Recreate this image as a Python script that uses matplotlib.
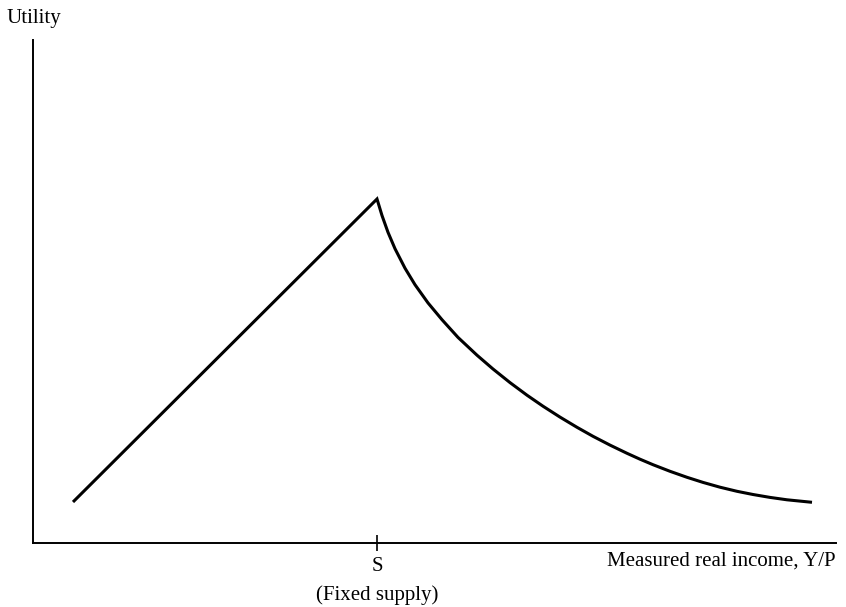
import numpy as np
import matplotlib
matplotlib.use('Agg')
import matplotlib.pyplot as plt

plt.rcParams['font.family'] = ['Liberation Serif', 'DejaVu Serif']

# ============================================================================
# DATA (arbitrary units)
# ============================================================================

rising_income = [40, 344]
rising_utility = [41, 344]

falling_income = [344, 349, 355, 362, 372, 382, 395, 409, 425, 444, 460,
                  477, 494, 510, 527, 544, 560, 577, 594, 607, 620, 637,
                  654, 670, 687, 704, 720, 737, 754, 779]
falling_utility = [344, 327.5, 310.7, 294.3, 274.8, 258.3, 240.1, 223.3,
                   205.6, 187.8, 174.0, 160.4, 147.8, 136.8, 125.9, 115.7,
                   106.7, 97.9, 89.7, 83.8, 78.3, 71.7, 65.7, 60.6, 55.8,
                   51.7, 48.5, 45.6, 43.2, 40.7]

supply_point = 344
tick_labels = ['S']

# ============================================================================
# PLOT
# ============================================================================

W, H = 846, 607
fig = plt.figure(figsize=(W / 100, H / 100), dpi=100)
ax = fig.add_axes([33 / W, (H - 543) / H, 803 / W, 503 / H])

ax.plot(rising_income + falling_income[1:], rising_utility + falling_utility[1:],
        color='black', lw=2.2, solid_joinstyle='miter', solid_capstyle='butt')

ax.set_xlim(0, 803)
ax.set_ylim(0, 503)
for side in ['top', 'right']:
    ax.spines[side].set_visible(False)
for side in ['left', 'bottom']:
    ax.spines[side].set_linewidth(1.4)

ax.set_yticks([])
ax.set_xticks([supply_point])
ax.set_xticklabels(tick_labels, fontsize=15)
ax.tick_params(axis='x', direction='inout', length=12, width=1.2, pad=4)

fig.text(6 / W, 1 - 18 / H, 'Utility', fontsize=15, ha='left', va='center')
fig.text(836 / W, 1 - 561 / H, 'Measured real income, Y/P', fontsize=15,
         ha='right', va='center')
fig.text(377 / W, 1 - 595 / H, '(Fixed supply)', fontsize=15,
         ha='center', va='center')

fig.savefig('out.png', dpi=100)
